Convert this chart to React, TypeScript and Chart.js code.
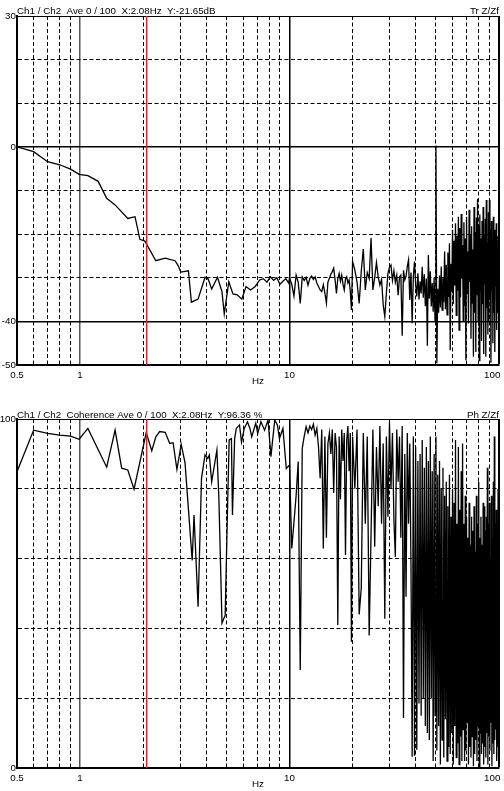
import React, { useEffect, useRef } from 'react';
import { Chart, registerables } from 'chart.js';

Chart.register(...registerables);

const FONT = '"Liberation Sans", Arial, Helvetica, sans-serif';
const FONT_SIZE = 9.8;
const DASH = [4, 2.5];
const CURSOR_COLOR = '#cc2a2a';

// ---------- shared frequency axis ----------
const xMinHz = 0.5;
const xMaxHz = 100;
const xGridHz = [0.5, 0.6, 0.7, 0.8, 0.9, 1, 2, 3, 4, 5, 6, 7, 8, 9, 10, 20, 30, 40, 50, 60, 70, 80, 90, 100];
const xSolidHz = [0.5, 1, 10, 100];
const xLabelHz = [0.5, 1, 10, 100];
const xLabelText = ['0.5', '1', '10', '100\u2007\u2007 '];
const xTitle = 'Hz';
const cursorHz = 2.08;

// ---------- top panel: transfer function (dB) ----------
const topHeader = 'Ch1 / Ch2  Ave 0 / 100  X:2.08Hz  Y:-21.65dB';
const topTag = 'Tr Z/Zf';
const topYMin = -50;
const topYMax = 30;
const topYStep = 10;
const topYLabels = [30, 0, -40, -50];
const topYSolid = [30, 0, -40, -50];

const topLowHz = [0.5, 0.6, 0.7, 0.8, 0.9, 0.99, 1.09, 1.22, 1.34, 1.47, 1.69, 1.83, 1.93, 2.04, 2.3, 2.55, 2.84, 2.93, 3.03, 3.29, 3.4, 3.66, 3.95, 4.09, 4.25, 4.53, 4.76, 4.88, 5.13, 5.37, 5.63, 5.92, 6.2, 6.51, 6.86, 7.2, 7.5, 7.8, 8.1, 8.4, 8.7, 9.0, 9.3, 9.6, 9.9];
const topLowDb = [0, -1.1, -3.4, -4.1, -5.1, -6.3, -6.6, -7.9, -11.8, -13.3, -16.4, -16.0, -21.2, -21.6, -26.1, -25.5, -26.1, -27.1, -28.7, -28.4, -35.6, -34.9, -29.9, -30.3, -32.6, -29.9, -33.2, -38.3, -30.9, -33.7, -33.9, -34.9, -32.0, -32.8, -32.0, -30.5, -30.2, -31.0, -29.8, -30.6, -30.0, -31.5, -30.8, -30.2, -31.2];

const topMidStartHz = 10;
const topMidStepHz = 0.25;
const topMidDb = [
  -30.1, -31.5, -34.2, -29.4, -31.0, -35.9, -29.8, -30.6, -29.9, -31.7,
  -30.2, -29.6, -30.4, -29.8, -31.2, -32.0, -32.8, -33.2, -31.6, -33.5,
  -35.8, -31.0, -30.1, -29.2, -28.6, -27.8, -30.5, -33.6, -30.2, -29.0,
  -30.8, -29.4, -31.5, -32.8, -30.3, -29.8, -31.2, -30.5, -33.0, -37.4,
];

const topHighStartHz = 20;
const topHighStepHz = 0.5;
const topHighDb = [
  -26.3, -28.2, -31.0, -35.9, -28.5, -23.4, -32.8, -28.8, -30.2, -20.9,
  -32.8, -30.0, -26.5, -29.8, -31.7, -30.4, -36.2, -38.9, -33.5, -29.0,
  -27.6, -27.1, -30.6, -28.4, -31.0, -29.4, -34.0, -29.8, -29.4, -43.3,
  -28.3, -30.5, -29.6, -27.4, -25.9, -35.1, -28.8, -40.4, -29.7, -26.3,
  -31.5, -34.3, -29.0, -35.0, -30.8, -33.6, -27.5, -34.6, -29.2, -36.5,
  -30.2, -45.6, -24.8, -34.8, -28.5, -36.6, -31.2, -37.8, -30.0, -40.0,
  0.3, -49.6, -32.5, -38.0, -29.5, -36.8, -27.4, -37.4, -30.1, -35.6,
  -24.0, -37.2, -27.0, -38.5, -24.2, -34.4, -22.1, -46.6, -26.8, -33.2,
  -19.0, -36.0, -21.5, -31.8, -17.5, -38.6, -20.4, -33.0, -16.0, -42.0,
  -18.6, -34.5, -15.4, -30.2, -22.5, -40.0, -17.3, -36.4, -21.0, -48.9,
  -16.0, -33.6, -24.0, -40.5, -14.4, -31.0, -20.0, -44.0, -18.2, -35.8,
  -23.5, -48.1, -13.8, -38.0, -19.5, -47.0, -16.2, -34.0, -11.9, -40.0,
  -18.0, -49.0, -15.5, -33.0, -21.0, -44.5, -17.0, -36.0, -13.8, -47.5,
  -20.0, -31.5, -16.5, -48.1, -12.2, -37.0, -22.0, -43.0, -15.0, -40.0,
  -12.2, -35.0, -19.0, -49.5, -17.0, -33.0, -21.0, -45.0, -16.0, -38.0,
  -19.0, -47.0, -22.0, -32.0, -17.5, -42.0, -24.0, -38.0, -20.5, -36.0,
  -26.0,
];

// ---------- bottom panel: coherence (%) ----------
const botHeader = 'Ch1 / Ch2  Coherence Ave 0 / 100  X:2.08Hz  Y:96.36 %';
const botTag = 'Ph Z/Zf';
const botYMin = 0;
const botYMax = 100;
const botYStep = 20;
const botYLabels = [100, 0];
const botYSolid = [100, 0];

const botLowHz = [0.5, 0.6, 0.7, 0.8, 0.9, 0.99, 1.09, 1.34, 1.47, 1.58, 1.69, 1.81, 2.07, 2.2, 2.3, 2.4, 2.55, 2.68, 2.78, 2.9, 3.04, 3.17, 3.43, 3.5, 3.66, 3.8, 3.95, 4.07, 4.14, 4.25, 4.5, 4.6, 4.76, 4.93, 5.05, 5.15, 5.28, 5.34, 5.47, 5.57, 5.77, 5.9, 6.08, 6.3, 6.47, 6.6, 6.9, 7.05, 7.3, 7.6, 7.9, 8.15, 8.5, 8.75, 8.95, 9.3, 9.65];
const botLowCoh = [84.9, 96.8, 95.9, 95.4, 95.1, 94.2, 97.3, 86.2, 96.8, 85.9, 85.4, 79.9, 96.1, 90.9, 94.9, 96.4, 96.2, 93.0, 93.2, 85.6, 92.7, 87.5, 59.5, 72.5, 46.2, 83.0, 89.7, 88.7, 89.7, 82.0, 91.1, 77.2, 41.5, 43.8, 72.5, 94.0, 94.4, 72.5, 94.4, 97.3, 98.3, 93.4, 97.3, 99.2, 97.3, 94.9, 98.8, 95.9, 99.2, 96.8, 99.7, 89.2, 99.7, 98.3, 94.4, 97.3, 85.8];

const botMidStartHz = 10;
const botMidStepHz = 0.25;
const botMidCoh = [
  86.8, 62.9, 70.5, 78.0, 87.8, 28.1, 91.6, 95.0, 97.8, 96.0,
  98.0, 97.0, 98.5, 95.4, 97.3, 92.0, 83.0, 97.0, 62.9, 95.0,
  66.0, 93.0, 96.0, 90.0, 97.0, 78.8, 96.0, 92.0, 41.0, 95.0,
  77.0, 97.0, 88.0, 96.0, 61.0, 94.0, 98.0, 85.0, 96.0, 36.2,
];

const botHighStartHz = 20;
const botHighStepHz = 0.5;
const botHighCoh = [
  95, 80, 97, 44, 51.5, 96, 70, 95, 38, 67,
  97, 63.4, 92, 75, 98, 70, 93, 42.8, 95, 72,
  99, 80, 96, 71, 60.5, 97, 82, 95, 66, 98,
  14.3, 90, 49.1, 96, 70, 93, 58, 3.2, 95, 3.5,
  92, 5.2, 88, 18.5, 90, 15, 94, 20, 86, 12,
  92, 10, 88, 8, 95, 20, 85, 2, 90, 15,
  95, 5, 84, 12, 88, 1, 80, 8, 86, 3,
  78, 14, 82, 2, 75, 6, 84, 4, 72, 10,
  80, 1, 76, 12, 94, 3, 70, 7, 92, 1,
  74, 9, 85, 2, 93, 11, 70, 2, 78, 5,
  72, 13, 66, 1, 76, 6, 64, 3, 72, 9,
  68, 0.5, 75, 4, 62, 8, 78, 2, 70, 12,
  82, 0.5, 66, 10, 72, 4, 64, 7, 76, 1,
  75, 6, 68, 3, 72, 10, 86, 1, 70, 9,
  76, 5, 60, 13, 78, 0.5, 66, 7, 82, 4,
  95, 8, 70, 11, 74, 2, 64, 6, 80, 3,
  60,
];

type Pt = { x: number; y: number };

function buildPoints(
  lowHz: number[], lowVals: number[],
  midStart: number, midStep: number, midVals: number[],
  highStart: number, highStep: number, highVals: number[],
): Pt[] {
  const pts: Pt[] = [];
  lowHz.forEach((f, i) => pts.push({ x: f, y: lowVals[i] }));
  midVals.forEach((v, i) => pts.push({ x: +(midStart + i * midStep).toFixed(4), y: v }));
  highVals.forEach((v, i) => pts.push({ x: +(highStart + i * highStep).toFixed(4), y: v }));
  return pts;
}

type PanelSpec = {
  top: number;
  height: number;
  padTop: number;
  axisHeight: number;
  header: string;
  tag: string;
  headerGap: number;
  yMin: number;
  yMax: number;
  yStep: number;
  yLabels: number[];
  ySolid: number[];
  points: Pt[];
};

const topSpec: PanelSpec = {
  top: 0,
  height: 388,
  padTop: 16,
  axisHeight: 23,
  header: topHeader,
  tag: topTag,
  headerGap: 2,
  yMin: topYMin,
  yMax: topYMax,
  yStep: topYStep,
  yLabels: topYLabels,
  ySolid: topYSolid,
  points: buildPoints(topLowHz, topLowDb, topMidStartHz, topMidStepHz, topMidDb, topHighStartHz, topHighStepHz, topHighDb),
};

const botSpec: PanelSpec = {
  top: 388,
  height: 403,
  padTop: 31,
  axisHeight: 23,
  header: botHeader,
  tag: botTag,
  headerGap: 0.8,
  yMin: botYMin,
  yMax: botYMax,
  yStep: botYStep,
  yLabels: botYLabels,
  ySolid: botYSolid,
  points: buildPoints(botLowHz, botLowCoh, botMidStartHz, botMidStepHz, botMidCoh, botHighStartHz, botHighStepHz, botHighCoh),
};

const headerPlugin = {
  id: 'header',
  afterDraw(chart: any, _args: any, opts: any) {
    const { ctx, chartArea } = chart;
    ctx.save();
    ctx.font = `${FONT_SIZE}px ${FONT}`;
    ctx.fillStyle = '#000';
    ctx.textBaseline = 'alphabetic';
    const y = chartArea.top - opts.gap;
    ctx.textAlign = 'left';
    ctx.fillText(opts.left, chartArea.left, y);
    ctx.textAlign = 'right';
    ctx.fillText(opts.right, chartArea.right, y);
    ctx.restore();
  },
};

function makeConfig(p: PanelSpec): any {
  return {
    type: 'line',
    data: {
      datasets: [
        {
          data: [{ x: cursorHz, y: p.yMin }, { x: cursorHz, y: p.yMax }],
          borderColor: CURSOR_COLOR,
          borderWidth: 1.5,
          pointRadius: 0,
        },
        {
          data: p.points,
          borderColor: '#000',
          borderWidth: 1.3,
          pointRadius: 0,
          tension: 0,
        },
      ],
    },
    options: {
      animation: false,
      responsive: false,
      devicePixelRatio: 1,
      events: [],
      layout: { padding: { left: 0, right: 5, top: p.padTop, bottom: 0 } },
      plugins: {
        legend: { display: false },
        tooltip: { enabled: false },
        header: { left: p.header, right: p.tag, gap: p.headerGap },
      },
      scales: {
        x: {
          type: 'logarithmic',
          position: 'bottom',
          min: xMinHz,
          max: xMaxHz,
          bounds: 'data',
          afterBuildTicks: (s: any) => {
            s.ticks = xGridHz.map((v) => ({ value: v }));
          },
          afterFit: (s: any) => {
            s.height = p.axisHeight;
            s.paddingLeft = 0;
            s.paddingRight = 0;
          },
          ticks: {
            autoSkip: false,
            maxRotation: 0,
            minRotation: 0,
            padding: 4,
            color: '#000',
            font: { family: FONT, size: FONT_SIZE },
            callback: (v: number) => {
              const i = xLabelHz.indexOf(v);
              return i >= 0 ? xLabelText[i] : '';
            },
          },
          grid: {
            drawTicks: false,
            color: (c: any) => (c.tick && c.tick.value === 1 ? '#555' : '#000'),
            lineWidth: (c: any) => {
              const v = c.tick && c.tick.value;
              if (v === xMaxHz) return 2;
              if (xSolidHz.includes(v)) return 1.5;
              return 1;
            },
          },
          border: {
            display: true,
            color: '#000',
            width: 2,
            dash: (c: any) => (c.tick && xSolidHz.includes(c.tick.value) ? [] : DASH),
          },
          title: {
            display: true,
            text: xTitle,
            color: '#000',
            font: { family: FONT, size: FONT_SIZE },
            padding: { top: 0, bottom: 0.5 },
          },
        },
        y: {
          type: 'linear',
          min: p.yMin,
          max: p.yMax,
          afterFit: (s: any) => {
            s.width = 17;
            s.paddingTop = 0;
            s.paddingBottom = 0;
          },
          ticks: {
            stepSize: p.yStep,
            autoSkip: false,
            padding: 1,
            color: '#000',
            font: { family: FONT, size: FONT_SIZE },
            callback: (v: number) => (p.yLabels.includes(v) ? String(v) : ''),
          },
          grid: {
            drawTicks: false,
            color: '#000',
            lineWidth: (c: any) => {
              const v = c.tick && c.tick.value;
              if (v === p.yMax) return 1;
              if (p.ySolid.includes(v)) return 1.5;
              return 1;
            },
          },
          border: {
            display: true,
            color: '#000',
            width: 2,
            dash: (c: any) => (c.tick && p.ySolid.includes(c.tick.value) ? [] : DASH),
          },
        },
      },
    },
    plugins: [headerPlugin],
  };
}

function Panel({ spec }: { spec: PanelSpec }) {
  const ref = useRef<HTMLCanvasElement>(null);
  useEffect(() => {
    if (!ref.current) return;
    const chart = new Chart(ref.current, makeConfig(spec));
    return () => chart.destroy();
  }, [spec]);
  return (
    <canvas
      ref={ref}
      width={504}
      height={spec.height}
      style={{ position: 'absolute', left: 0, top: spec.top, width: 504, height: spec.height }}
    />
  );
}

export default function App() {
  return (
    <div style={{ position: 'absolute', left: 0, top: 0, width: 504, height: 791, background: '#fff', overflow: 'hidden' }}>
      <Panel spec={topSpec} />
      <Panel spec={botSpec} />
    </div>
  );
}
